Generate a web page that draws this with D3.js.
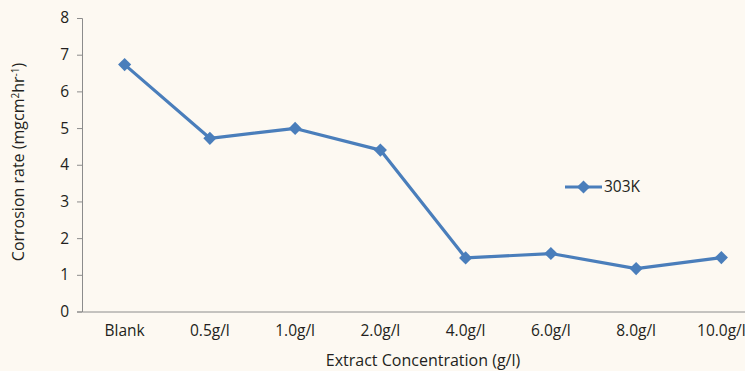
<!DOCTYPE html>
<html>
<head>
<meta charset="utf-8">
<script src="https://cdn.jsdelivr.net/npm/d3@7"></script>
<style>
  html, body { margin: 0; padding: 0; background: #fdf9f2; }
  svg { display: block; }
  text { font-family: "Open Sans", "Noto Sans", sans-serif; fill: #231f20; }
</style>
</head>
<body>
<svg id="chart" width="745" height="371"></svg>
<script>
// Corrosion rate at 303K versus extract concentration
const categories = ["Blank", "0.5g/l", "1.0g/l", "2.0g/l", "4.0g/l", "6.0g/l", "8.0g/l", "10.0g/l"];
const rate303K = [6.73, 4.72, 4.99, 4.40, 1.46, 1.58, 1.17, 1.47];
const yTicks = [0, 1, 2, 3, 4, 5, 6, 7, 8];
const seriesName = "303K";

const W = 745, H = 371;
const margin = { left: 82, top: 18, bottom: 60 };
const plotRight = 764;            // plot area runs past the visible edge
const svg = d3.select("#chart");
const fs = 15.5;

const x = d3.scaleBand().domain(categories).range([margin.left, plotRight]).paddingInner(0).paddingOuter(0);
const y = d3.scaleLinear().domain([0, 8]).range([H - margin.bottom + 0.5, margin.top]);
const cx = d => x(d) + x.bandwidth() / 2;

const axisColor = "#8c8c8c";

// Y axis
const yAxis = svg.append("g")
  .attr("transform", `translate(${margin.left},0)`)
  .call(d3.axisLeft(y).tickValues(yTicks).tickSize(5).tickPadding(8).tickFormat(d3.format("d")));
yAxis.select(".domain").attr("stroke", axisColor);
yAxis.selectAll(".tick line").attr("stroke", axisColor);
yAxis.selectAll(".tick text").attr("font-size", fs).style("font-family", "'Open Sans', sans-serif").attr("fill", "#231f20");

// X axis
const xAxis = svg.append("g")
  .attr("transform", `translate(0,${y(0)})`)
  .call(d3.axisBottom(x).tickSize(0).tickPadding(13));
xAxis.select(".domain").attr("stroke", axisColor);
xAxis.selectAll(".tick text").attr("font-size", fs).attr("fill", "#231f20")
  .style("font-family", "'Open Sans', sans-serif");

// Series line
const color = "#4a7ebb";
const pts = categories.map((c, i) => [cx(c), y(rate303K[i])]);
svg.append("path")
  .attr("d", d3.line()(pts))
  .attr("fill", "none")
  .attr("stroke", color)
  .attr("stroke-width", 3.2)
  .attr("stroke-linejoin", "round");

const diamond = d3.symbol().type(d3.symbolDiamond2).size(110);
svg.append("g").selectAll("path").data(pts).join("path")
  .attr("d", diamond)
  .attr("transform", d => `translate(${d[0]},${d[1]})`)
  .attr("fill", color);

// Legend
const lg = svg.append("g").attr("transform", "translate(565,187)");
lg.append("line").attr("x1", 0).attr("x2", 37).attr("stroke", color).attr("stroke-width", 3.2);
lg.append("path").attr("d", diamond).attr("transform", "translate(18.5,0)").attr("fill", color);
lg.append("text").attr("x", 39).attr("y", 0).attr("dy", "0.35em").attr("font-size", fs).text(seriesName);

// Axis titles
svg.append("text")
  .attr("x", 423).attr("y", 366)
  .attr("text-anchor", "middle").attr("font-size", fs + 0.5)
  .text("Extract Concentration (g/l)");

const yt = svg.append("text")
  .attr("transform", "translate(24,162) rotate(-90)")
  .attr("text-anchor", "middle").attr("font-size", fs + 0.5);
yt.append("tspan").text("Corrosion rate (mgcm");
yt.append("tspan").attr("font-size", 10).attr("dy", -5).text("2");
yt.append("tspan").attr("dy", 5).text("hr");
yt.append("tspan").attr("font-size", 10).attr("dy", -5).text("-1");
yt.append("tspan").attr("dy", 5).text(")");
</script>
</body>
</html>
